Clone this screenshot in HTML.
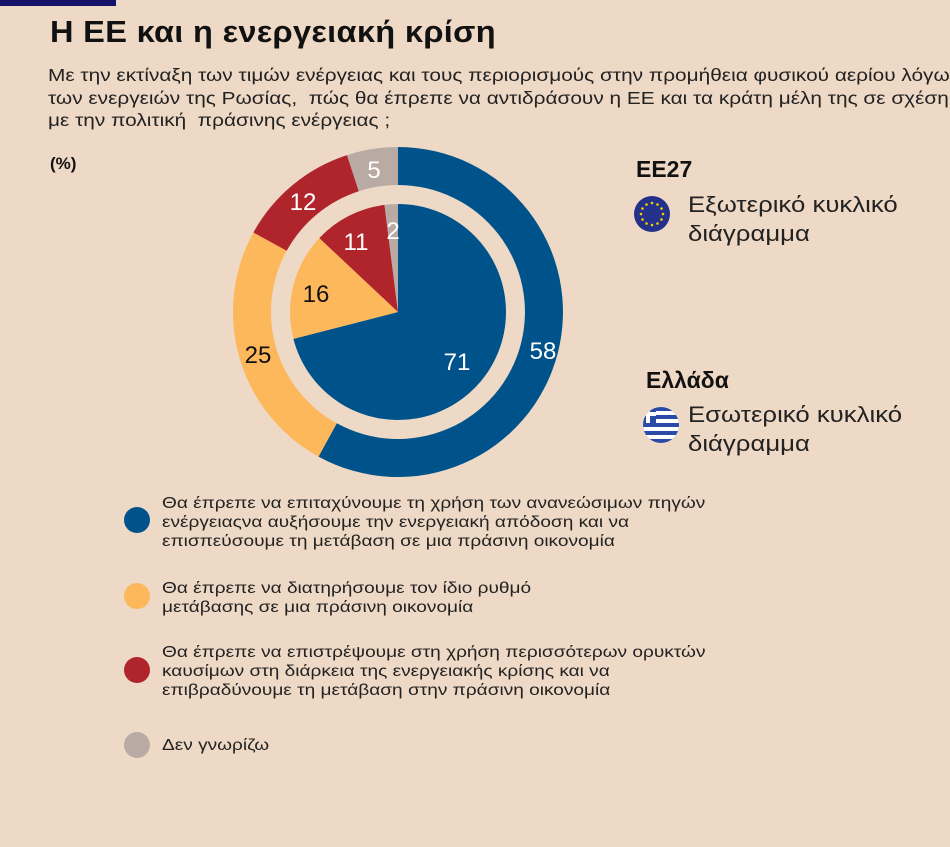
<!DOCTYPE html>
<html><head><meta charset="utf-8"><style>
body{margin:0;background:#eed9c6;}
#c{position:relative;width:950px;height:847px;background:#eed9c6;font-family:"Liberation Sans","DejaVu Sans",sans-serif;color:#111;overflow:hidden}
.t{position:absolute;white-space:nowrap;transform-origin:0 0}
.leg{position:absolute;left:162px;font-size:15.5px;line-height:19px;color:#222;white-space:nowrap;transform:scaleX(1.23);transform-origin:0 0}
.dot{position:absolute;left:124px;width:26px;height:26px;border-radius:50%}
</style></head><body><div id="c">
<div style="position:absolute;left:0;top:0;width:116px;height:6px;background:#13126a"></div>
<div class="t" style="left:50px;top:14px;font-size:31px;font-weight:bold;letter-spacing:0.3px;transform:scaleX(1.05)">Η ΕΕ και η ενεργειακή κρίση</div>
<div class="t" style="left:48px;top:64px;font-size:17.5px;line-height:22.5px;color:#222;transform:scaleX(1.19)">Με την εκτίναξη των τιμών ενέργειας και τους περιορισμούς στην προμήθεια φυσικού αερίου λόγω<br>των ενεργειών της Ρωσίας,&nbsp; πώς θα έπρεπε να αντιδράσουν η ΕΕ και τα κράτη μέλη της σε σχέση<br>με την πολιτική&nbsp; πράσινης ενέργειας ;</div>
<div class="t" style="left:50px;top:154px;font-size:17px;font-weight:bold">(%)</div>
<svg style="position:absolute;left:0;top:0" width="950" height="847">
<path d="M398,147 A165,165 0 1 1 318.5,456.6 L336.8,423.3 A127,127 0 1 0 398,185 Z" fill="#00538a"/>
<path d="M318.5,456.6 A165,165 0 0 1 253.4,232.5 L286.7,250.8 A127,127 0 0 0 336.8,423.3 Z" fill="#fdb85c"/>
<path d="M253.4,232.5 A165,165 0 0 1 347.0,155.1 L358.8,191.2 A127,127 0 0 0 286.7,250.8 Z" fill="#b0252c"/>
<path d="M347.0,155.1 A165,165 0 0 1 398,147 L398,185 A127,127 0 0 0 358.8,191.2 Z" fill="#b9aaa4"/>
<path d="M398,312 L398,204 A108,108 0 1 1 293.4,338.9 Z" fill="#00538a"/>
<path d="M398,312 L293.4,338.9 A108,108 0 0 1 319.3,238.1 Z" fill="#fdb85c"/>
<path d="M398,312 L319.3,238.1 A108,108 0 0 1 384.5,204.9 Z" fill="#b0252c"/>
<path d="M398,312 L384.5,204.9 A108,108 0 0 1 398,204 Z" fill="#b9aaa4"/>
<g font-family="Liberation Sans, DejaVu Sans, sans-serif" font-size="24" text-anchor="middle">
<text x="543" y="359" fill="#fff">58</text>
<text x="258" y="363" fill="#111">25</text>
<text x="303" y="210" fill="#fff">12</text>
<text x="374" y="178" fill="#fff">5</text>
<text x="457" y="370" fill="#fff">71</text>
<text x="316" y="302" fill="#111">16</text>
<text x="356" y="250" fill="#fff">11</text>
<text x="393" y="239" fill="#fff">2</text>
</g>
<circle cx="652" cy="214" r="18" fill="#23318a"/>
<g fill="#f5d000">
<circle cx="652" cy="203" r="1.3"/><circle cx="652" cy="225" r="1.3"/><circle cx="641" cy="214" r="1.3"/><circle cx="663" cy="214" r="1.3"/>
<circle cx="657.5" cy="204.5" r="1.3"/><circle cx="646.5" cy="204.5" r="1.3"/><circle cx="657.5" cy="223.5" r="1.3"/><circle cx="646.5" cy="223.5" r="1.3"/>
<circle cx="661.5" cy="208.5" r="1.3"/><circle cx="642.5" cy="208.5" r="1.3"/><circle cx="661.5" cy="219.5" r="1.3"/><circle cx="642.5" cy="219.5" r="1.3"/>
</g>
<clipPath id="gr"><circle cx="661" cy="425" r="18"/></clipPath>
<g clip-path="url(#gr)">
<rect x="640" y="405" width="42" height="40" fill="#2a4aa8"/>
<rect x="640" y="411" width="42" height="4" fill="#fff"/>
<rect x="640" y="419" width="42" height="4" fill="#fff"/>
<rect x="640" y="427" width="42" height="4" fill="#fff"/>
<rect x="640" y="435" width="42" height="4" fill="#fff"/>
<rect x="640" y="405" width="16" height="18" fill="#2a4aa8"/>
<rect x="646" y="405" width="4" height="18" fill="#fff"/>
<rect x="640" y="412" width="16" height="4" fill="#fff"/>
</g>
</svg>
<div class="t" style="left:636px;top:156px;font-size:23px;font-weight:bold">ΕΕ27</div>
<div class="t" style="left:688px;top:190px;font-size:22px;line-height:29px;color:#222;transform:scaleX(1.17)">Εξωτερικό κυκλικό<br>διάγραμμα</div>
<div class="t" style="left:646px;top:367px;font-size:23px;font-weight:bold">Ελλάδα</div>
<div class="t" style="left:688px;top:400px;font-size:22px;line-height:29px;color:#222;transform:scaleX(1.17)">Εσωτερικό κυκλικό<br>διάγραμμα</div>
<div class="dot" style="top:507px;background:#00538a"></div>
<div class="leg" style="top:494px">Θα έπρεπε να επιταχύνουμε τη χρήση των ανανεώσιμων πηγών<br>ενέργειαςνα αυξήσουμε την ενεργειακή απόδοση και να<br>επισπεύσουμε τη μετάβαση σε μια πράσινη οικονομία</div>
<div class="dot" style="top:583px;background:#fdb85c"></div>
<div class="leg" style="top:579px">Θα έπρεπε να διατηρήσουμε τον ίδιο ρυθμό<br>μετάβασης σε μια πράσινη οικονομία</div>
<div class="dot" style="top:657px;background:#b0252c"></div>
<div class="leg" style="top:643px">Θα έπρεπε να επιστρέψουμε στη χρήση περισσότερων ορυκτών<br>καυσίμων στη διάρκεια της ενεργειακής κρίσης και να<br>επιβραδύνουμε τη μετάβαση στην πράσινη οικονομία</div>
<div class="dot" style="top:732px;background:#b9aaa4"></div>
<div class="leg" style="top:736px">Δεν γνωρίζω</div>
</div></body></html>
